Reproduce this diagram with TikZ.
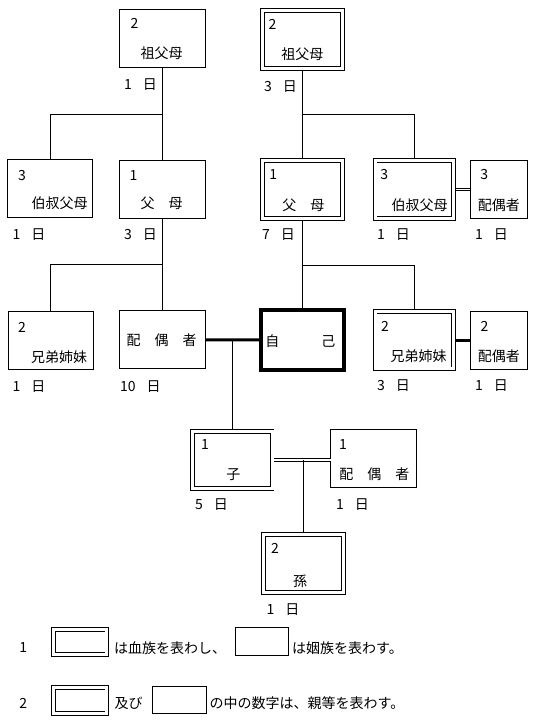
\documentclass[tikz,border=0pt]{standalone}
\usepackage{fontspec}
\setmainfont{Noto Sans CJK JP}
\usetikzlibrary{calc}
\newcommand\days[1]{#1\hspace{11pt}日}
\tikzset{
  inlaw/.style={draw, line width=0.9pt, inner sep=0pt, outer sep=0pt, minimum width=85.2, minimum height=58.2},
  blood/.style={draw, line width=0.9pt, double, double distance=3pt, inner sep=0pt, outer sep=2.4pt, minimum width=79.7, minimum height=57.4},
  selfbox/.style={draw, line width=3.5pt, inner sep=0pt, outer sep=0pt, minimum width=83, minimum height=60},
  txt/.style={inner sep=0pt},
  day/.style={inner sep=0pt, anchor=west},
  link/.style={line width=0.9pt},
  bond/.style={line width=3pt},
  dbond/.style={line width=0.8pt, double, double distance=1.8pt},
}
\begin{document}
\begin{tikzpicture}[x=1pt, y=-1pt, font=\fontsize{14}{16}\selectfont]
    \useasboundingbox (0,0) rectangle (534,723);
    % boxes
    \node[inlaw] (gpL) at (162.5,38.8) {};
    \node[blood] (gpR) at (302.5,39.5) {};
    \node[inlaw] (ouL) at (50.3,188.8) {};
    \node[inlaw] (parL) at (162.5,189.5) {};
    \node[blood] (parR) at (302.5,189.5) {};
    \node[blood, minimum width=78.4] (ouR) at (414.2,189.5) {};
    \node[inlaw, minimum width=57] (ouSp) at (498.9,189.3) {};
    \node[inlaw] (sibL) at (50.8,340.2) {};
    \node[inlaw] (spouse) at (162.5,339.8) {};
    \node[selfbox] (self) at (302.5,340) {};
    \node[blood, minimum width=78.4] (sibR) at (414.2,340.2) {};
    \node[inlaw, minimum width=57] (sibSp) at (498.9,340.2) {};
    \node[blood] (child) at (232.2,459.8) {};
    \node[inlaw, minimum width=86] (childSp) at (373.6,458.6) {};
    \node[blood] (grand) at (303.5,563.5) {};
    % texts
    \node[txt] (gpLn) at (134.5,23) {2};
    \node[txt] (gpLt) at (161.7,53.5) {祖父母};
    \node[day] (gpLd) at (124,85) {\days{1}};
    \node[txt] (gpRn) at (272.5,24) {2};
    \node[txt] (gpRt) at (302.3,54.5) {祖父母};
    \node[day] (gpRd) at (264,86.5) {\days{3}};
    \node[txt] (ouLn) at (22,176) {3};
    \node[txt] (ouLt) at (59.5,203.5) {伯叔父母};
    \node[day] (ouLd) at (12.5,235) {\days{1}};
    \node[txt] (parLn) at (133.5,176) {1};
    \node[txt] (parLt) at (161.5,203.5) {父　母};
    \node[day] (parLd) at (124,235) {\days{3}};
    \node[txt] (parRn) at (273.3,175) {1};
    \node[txt] (parRt) at (303.3,205) {父　母};
    \node[day] (parRd) at (262,235) {\days{7}};
    \node[txt] (ouRn) at (384.2,175) {3};
    \node[txt] (ouRt) at (419.5,205) {伯叔父母};
    \node[day] (ouRd) at (377,235) {\days{1}};
    \node[txt] (ouSpn) at (484.2,175) {3};
    \node[txt] (ouSpt) at (498.9,205) {配偶者};
    \node[day] (ouSpd) at (475,235) {\days{1}};
    \node[txt] (sibLn) at (22,327.5) {2};
    \node[txt] (sibLt) at (59,357) {兄弟姉妹};
    \node[day] (sibLd) at (12.5,386.5) {\days{1}};
    \node[txt] (spouset) at (161.7,340) {配　偶　者};
    \node[day] (spoused) at (120,386.5) {\days{10}};
    \node[txt] (selft) at (300.3,341) {自　　　己};
    \node[txt] (sibRn) at (385,326.7) {2};
    \node[txt] (sibRt) at (418.7,356) {兄弟姉妹};
    \node[day] (sibRd) at (377,385.5) {\days{3}};
    \node[txt] (sibSpn) at (484.5,326.7) {2};
    \node[txt] (sibSpt) at (498.9,356) {配偶者};
    \node[day] (sibSpd) at (475,385.5) {\days{1}};
    \node[txt] (childn) at (205,445) {1};
    \node[txt] (childt) at (233.3,474.5) {子};
    \node[day] (childd) at (195,505) {\days{5}};
    \node[txt] (childSpn) at (343,445) {1};
    \node[txt] (childSpt) at (374.3,474) {配　偶　者};
    \node[day] (childSpd) at (336,505) {\days{1}};
    \node[txt] (grandn) at (275,548) {2};
    \node[txt] (grandt) at (300,581) {孫};
    \node[day] (grandd) at (266.5,610) {\days{1}};
    % lines
    \coordinate (jGpL) at ($(gpL.south)!0.5!(parL.north)$);
    \draw[link] (gpL.south) -- (parL.north);
    \draw[link] (jGpL) -| (ouL.north);
    \coordinate (jGpR) at ($(gpR.south)!0.5!(parR.north)$);
    \draw[link] (gpR.south) -- (parR.north);
    \draw[link] (jGpR) -| (ouR.north);
    \coordinate (jParL) at ($(parL.south)!0.5!(spouse.north)$);
    \draw[link] (parL.south) -- (spouse.north);
    \draw[link] (jParL) -| (sibL.north);
    \coordinate (jParR) at ($(parR.south)!0.5!(self.north)$);
    \draw[link] (parR.south) -- (self.north);
    \draw[link] (jParR) -| (sibR.north);
    \draw[dbond] (ouR.east) -- (ouR.east -| ouSp.west);
    \draw[bond] (spouse.east) -- (self.west);
    \draw[bond] (sibR.east) -- (sibR.east -| sibSp.west);
    \draw[link] (child.north |- spouse.east) -- (child.north);
    \draw[dbond] (child.east) -- (child.east -| childSp.west);
    \draw[link] (grand.north |- child.east) -- (grand.north);
    % legend
    \node[txt] (leg1n) at (23.3,648) {1};
    \node[blood, minimum width=53.5, minimum height=25.2] (legB1) at (80.2,641.7) {};
    \node[day] (leg1a) at (114,648) {は血族を表わし、};
    \node[inlaw, minimum width=52.5, minimum height=28.2] (legI1) at (261.7,641.2) {};
    \node[day] (leg1b) at (292,648) {は姻族を表わす。};
    \node[txt] (leg2n) at (23.3,703.3) {2};
    \node[blood, minimum width=53.5, minimum height=25.9] (legB2) at (80.2,700.4) {};
    \node[day] (leg2a) at (114.5,703) {及び};
    \node[inlaw, minimum width=54.2, minimum height=27.8] (legI2) at (179.2,700) {};
    \node[day] (leg2b) at (209.5,703) {の中の数字は、親等を表わす。};
\end{tikzpicture}
\end{document}
